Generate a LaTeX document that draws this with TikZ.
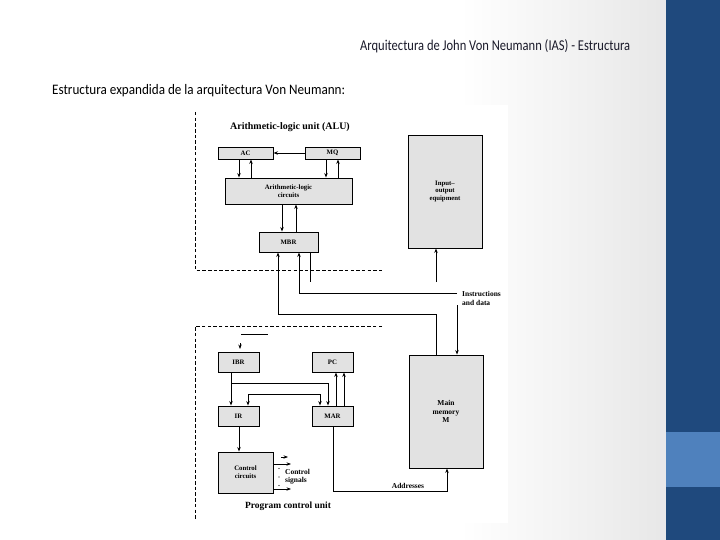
\documentclass[tikz,border=0pt]{standalone}
\usepackage{fontspec}
\setmainfont{Liberation Serif}
\newfontfamily\calfont{Carlito}
\usetikzlibrary{arrows.meta}
\definecolor{boxgray}{HTML}{E2E2E2}
\definecolor{bggray}{HTML}{E8E8E8}
\definecolor{edgegray}{HTML}{E8E7EB}
\definecolor{darkblue}{HTML}{1F497D}
\definecolor{lightblue}{HTML}{4F81BD}
\definecolor{titlecol}{HTML}{1A1A2A}
\tikzset{
  blk/.style={draw, line width=0.9bp, fill=boxgray, inner sep=0pt, align=center,
    font=\fontsize{6.8}{7.8}\selectfont\bfseries},
  arr/.style={-{Stealth[length=4.5bp,width=3.4bp]}, line width=0.9bp},
  darr/.style={{Stealth[length=4.5bp,width=3.4bp]}-{Stealth[length=4.5bp,width=3.4bp]}, line width=0.9bp},
  ln/.style={line width=0.9bp},
  dsh/.style={line width=0.9bp, dash pattern=on 3.5bp off 2.2bp},
  sidelab/.style={font=\fontsize{7.5}{8.5}\selectfont\bfseries, align=left, inner sep=0pt},
  headlab/.style={font=\fontsize{10}{11}\selectfont\bfseries, inner sep=0pt}
}
\begin{document}
\begin{tikzpicture}[x=1bp,y=-1bp]
\useasboundingbox (0,0) rectangle (720,540);
% slide background
\fill[white] (0,0) rectangle (720,540);
\shade[left color=white, right color=bggray] (460,0) rectangle (660,540);
\fill[edgegray] (660,0) rectangle (666,540);
\fill[darkblue] (666,0) rectangle (720,540);
\fill[lightblue] (666,432) rectangle (720,487);
% titles
\node[anchor=base west, inner sep=0pt, text=titlecol] (title) at (360,50.5)
  {\resizebox{270bp}{\height}{\fontsize{15bp}{17bp}\calfont Arquitectura de John Von Neumann (IAS) - Estructura}};
\node[anchor=base west, inner sep=0pt] (subtitle) at (52,94.5)
  {\resizebox{293bp}{\height}{\fontsize{14.5bp}{16bp}\calfont Estructura expandida de la arquitectura Von Neumann:}};
% picture area
\fill[white] (180,105) rectangle (508,523);

% ALU part
\node[headlab] (alut) at (290,127) {Arithmetic-logic unit (ALU)};
\node[blk, minimum width=55bp, minimum height=12bp] (ac) at (245.5,153) {AC};
\node[blk, minimum width=55bp, minimum height=12bp] (mq) at (332.5,153) {MQ};
\node[blk, minimum width=127bp, minimum height=26bp] (alc) at (288.5,191) {Arithmetic-logic\\circuits};
\node[blk, minimum width=59bp, minimum height=20bp] (mbr) at (288.5,242) {MBR};
\node[blk, minimum width=74bp, minimum height=113bp] (io) at (445,191.5) {Input–\\output\\equipment};
\node[blk, minimum width=74bp, minimum height=113bp, font=\fontsize{7.5}{8.5}\selectfont\bfseries] (mem) at (446,411.5) {Main\\memory\\M};

\draw[arr] (mq.west) -- (ac.east);
\draw[arr] (239,0 |- ac.south) -- (239,0 |- alc.north);
\draw[arr] (251,0 |- alc.north) -- (251,0 |- ac.south);
\draw[arr] (326,0 |- mq.south) -- (326,0 |- alc.north);
\draw[arr] (338,0 |- alc.north) -- (338,0 |- mq.south);
\draw[arr] (282,0 |- alc.south) -- (282,0 |- mbr.north);
\draw[arr] (296,0 |- mbr.north) -- (296,0 |- alc.south);

\draw[dsh] (195,112) -- (195,270) -- (382,270);

% bus between MBR and memory / IO
\draw[arr] (436,0 |- mem.north) |- (278,314) -- (278,0 |- mbr.south);
\coordinate (idin) at (457,293);
\draw[arr] (idin) -- (299,293) -- (299,0 |- mbr.south);
\node[sidelab, anchor=west] (idlab) at (462,298.5) {Instructions\\and data};
\coordinate (idout) at (457,305);
\draw[arr] (idout) -- (457,0 |- mem.north);
\coordinate (mbrio) at (310,282);
\draw[ln] (310,0 |- mbr.south) -- (mbrio);
\coordinate (ioin) at (436,282);
\draw[arr] (ioin) -- (436,0 |- io.south);

% program control unit
\draw[dsh] (382,326) -- (195,326) -- (195,520);
\coordinate (sl1) at (241,334);
\coordinate (sl2) at (268,334);
\draw[ln] (sl1) -- (sl2);

\node[blk, minimum width=41bp, minimum height=20bp] (ibr) at (238.5,362) {IBR};
\node[blk, minimum width=41bp, minimum height=20bp] (pc) at (332.5,362) {PC};
\node[blk, minimum width=41bp, minimum height=20bp] (ir) at (238.5,416) {IR};
\node[blk, minimum width=41bp, minimum height=20bp] (mar) at (332.5,416) {MAR};
\node[blk, minimum width=55bp, minimum height=41bp] (ctrl) at (245.5,472.5) {Control\\circuits};

\coordinate (ibrtip) at (240,343);
\draw[arr] (ibrtip) -- (240,349);
\draw[arr] (231,0 |- ibr.south) -- (231,0 |- ir.north);
\draw[arr] (231,383) -- (328,383) -- (328,0 |- mar.north);
\draw[darr] (248,0 |- ir.north) |- (320,394) -- (320,0 |- mar.north);
\draw[arr] (336,0 |- mar.north) -- (336,0 |- pc.south);
\draw[arr] (344,0 |- mar.north) -- (344,0 |- pc.south);
\draw[arr] (239,0 |- ir.south) -- (239,0 |- ctrl.north);

% control signals
\draw[arr] (273,464) -- (291,464);
\draw[arr] (273,489) -- (291,489);
\coordinate (cstip) at (281,457);
\draw[arr] (cstip) -- (288,457);
\fill (279,468.5) circle (0.7);
\fill (279,477) circle (0.7);
\fill (279,485.5) circle (0.7);
\node[sidelab, anchor=west] (cslab) at (285,476.5) {Control\\signals};

% addresses
\draw[arr] (333,0 |- mar.south) |- (447,491) -- (447,0 |- mem.south);
\node[sidelab, anchor=base] (addr) at (408,488.5) {Addresses};

\node[font=\fontsize{9.5}{11}\selectfont\bfseries, inner sep=0pt] (pcu) at (288,506) {Program control unit};
\end{tikzpicture}
\end{document}
